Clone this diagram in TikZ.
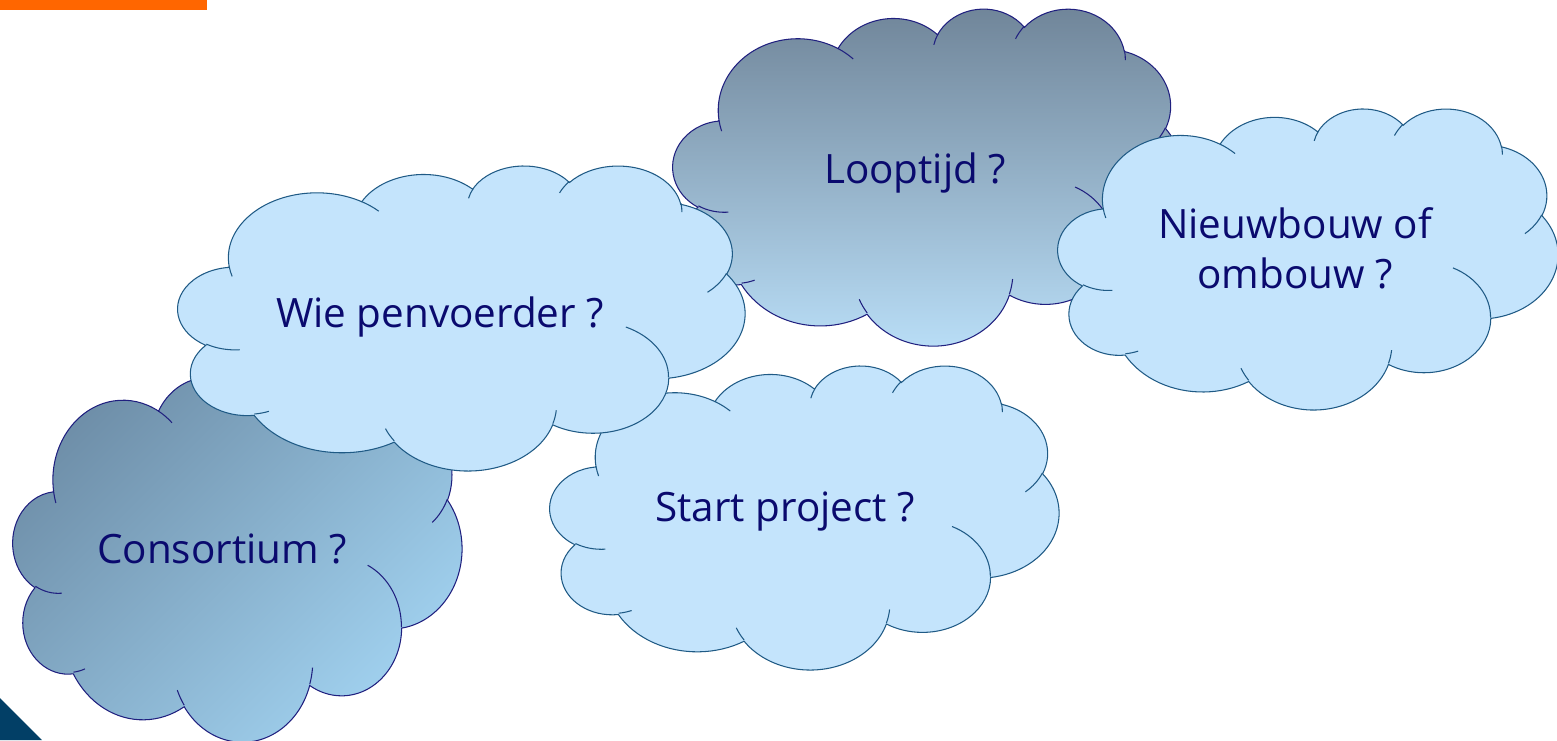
\documentclass[tikz,border=0pt]{standalone}
\usepackage{fontspec}
\setmainfont{Open Sans}

\definecolor{cloudfill}{HTML}{C4E4FC}
\definecolor{cloudline}{HTML}{1F5A85}
\definecolor{darkline}{HTML}{20207F}
\definecolor{textnavy}{HTML}{0A0A6E}
\definecolor{greytop}{HTML}{6F8498}
\definecolor{paleblue}{HTML}{BADFF8}
\definecolor{greyleft}{HTML}{6E8EA8}
\definecolor{skyblue}{HTML}{A2D3F1}
\definecolor{barorange}{HTML}{FF6600}
\definecolor{cornerblue}{HTML}{023F66}

% visual angle on an ellipse (a,b) -> parametric angle
\pgfmathdeclarefunction{cloudang}{3}{%
  \begingroup
    \pgfmathparse{atan2((#1)*sin(#3),(#2)*cos(#3))-(#3)}%
    \pgfmathparse{(#3)+atan2(sin(\pgfmathresult),cos(\pgfmathresult))}%
    \pgfmathsmuggle\pgfmathresult
  \endgroup}
\newcommand{\carc}[4]{arc[x radius=#1,y radius=#2,
  start angle={cloudang(#1,#2,#3)},end angle={cloudang(#1,#2,#3+#4)}]}

% cloud in a 43.2 x 43.2 box, y pointing down
\newcommand{\cloudoutline}{(3.9,14.37)
  \carc{6.753}{9.19}{-190.4875}{123.7805}
  \carc{5.333}{7.267}{-144.1024}{89.9452}
  \carc{4.365}{5.945}{-145.8079}{99.7230}
  \carc{4.857}{6.595}{-130.9861}{117.2417}
  \carc{5.333}{7.273}{-78.7089}{109.0269}
  \carc{6.775}{9.22}{-46.2673}{130.269}
  \carc{5.785}{7.867}{0.625}{114.0333}
  \carc{6.752}{9.215}{22.4516}{115.1726}
  \carc{7.72}{10.543}{66.2426}{75.7110}
  \carc{4.36}{5.918}{-274.9421}{146.7356}
  \carc{4.345}{5.945}{-246.8285}{152.5189}
  -- cycle}
\newcommand{\cloudticks}{%
  (4.693,26.177) \carc{4.345}{5.945}{86.742}{26.4295}
  (6.928,34.899) \carc{4.36}{5.918}{73.6105}{11.4475}
  (16.478,39.09) \carc{6.752}{9.215}{137.6242}{14.0811}
  (28.827,34.751) \carc{6.752}{9.215}{6.4533}{15.9984}
  (34.129,22.954) \carc{5.785}{7.867}{-70.2924}{70.9174}
  (41.798,15.354) \carc{5.333}{7.273}{30.318}{27.7515}
  (38.324,5.426) \carc{4.857}{6.595}{-13.7443}{14.8589}
  (29.078,3.952) \carc{4.857}{6.595}{-149.1815}{18.1954}
  (22.141,4.72) \carc{4.365}{5.945}{-163.4943}{17.6864}
  (14.0,5.192) \carc{6.753}{9.19}{-66.707}{12.3194}
  (4.127,15.789) \carc{6.753}{9.19}{157.6544}{11.8582}}

% \pptcloud{left}{top}{width}{height}{fill}{line colour}
\newcommand{\pptcloud}[6]{%
  \begin{scope}[shift={(#1,#2)},x=1cm,y=1cm,xscale={#3/2160},yscale={-#4/2160}]
    \path[#5,draw=#6,line width=0.6pt] \cloudoutline;
    \draw[#6,line width=0.6pt] \cloudticks;
  \end{scope}}

\tikzset{
  cloudtext/.style={text=textnavy,font=\fontsize{23}{28}\selectfont,
    align=center,inner sep=0pt,anchor=base},
}

\begin{document}
\begin{tikzpicture}[x=0.02cm,y=-0.02cm]
\useasboundingbox (0,0) rectangle (1557,740);
\fill[barorange] (0,0) rectangle (207,10);
\fill[cornerblue] (0,698) -- (42,740) -- (0,740) -- cycle;

\pptcloud{13}{366}{449}{375}{top color=greyleft,bottom color=skyblue,shading angle=45}{darkline}
\node[cloudtext] (consortium) at (222,563) {Consortium ?};

\pptcloud{673}{8}{509}{337}{top color=greytop,bottom color=paleblue}{darkline}
\node[cloudtext] (looptijd) at (915,183) {Looptijd ?};

\pptcloud{550}{365}{509}{304}{fill=cloudfill}{cloudline}
\node[cloudtext] (start) at (785,521) {Start project ?};

\pptcloud{178}{165}{567}{305}{fill=cloudfill}{cloudline}
\node[cloudtext] (penvoerder) at (440,327) {Wie penvoerder ?};

\pptcloud{1058}{108}{500}{301}{fill=cloudfill}{cloudline}
\node[cloudtext] (bouw) at (1295,288) {Nieuwbouw of\\ombouw ?};
\end{tikzpicture}
\end{document}
